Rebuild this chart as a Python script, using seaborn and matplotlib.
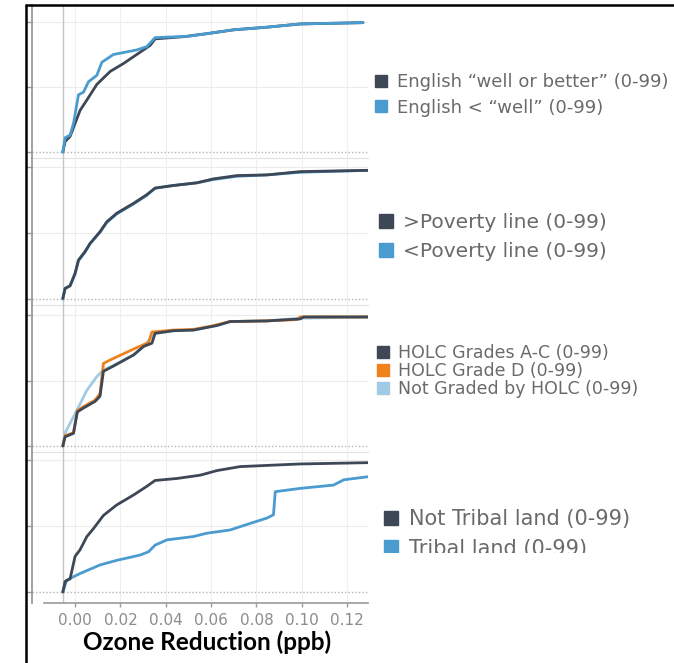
import matplotlib
matplotlib.use("Agg")
import matplotlib.pyplot as plt
from matplotlib.lines import Line2D
from matplotlib.patches import Rectangle
import pandas as pd
import seaborn as sns

# ---- data (cumulative share vs ozone reduction) ----
eng_well_x = [-0.0054, -0.0044, -0.0022, 0.0, 0.0022, 0.0052, 0.0096, 0.0155, 0.0213, 0.0272, 0.0331, 0.0353, 0.0478, 0.058, 0.07, 0.0846, 0.0993, 0.127]
eng_well_y = [0.0, 0.08, 0.12, 0.22, 0.32, 0.40, 0.52, 0.62, 0.68, 0.75, 0.82, 0.87, 0.887, 0.91, 0.94, 0.96, 0.985, 0.995]
eng_low_x = [-0.0054, -0.0044, -0.0022, -0.0007, 0.0015, 0.0037, 0.0059, 0.0096, 0.0118, 0.0169, 0.0272, 0.0316, 0.0353, 0.05, 0.058, 0.07, 0.0846, 0.0993, 0.127]
eng_low_y = [0.0, 0.11, 0.13, 0.22, 0.44, 0.46, 0.54, 0.59, 0.69, 0.75, 0.785, 0.81, 0.88, 0.89, 0.91, 0.94, 0.96, 0.985, 0.995]

pov_above_x = [-0.0054, -0.0044, -0.0022, 0.0, 0.0015, 0.0044, 0.0066, 0.011, 0.014, 0.0184, 0.0258, 0.0316, 0.0353, 0.0434, 0.0537, 0.061, 0.0714, 0.0846, 0.0993, 0.13]
pov_above_y = [0.005, 0.08, 0.10, 0.195, 0.295, 0.36, 0.42, 0.51, 0.585, 0.65, 0.725, 0.79, 0.84, 0.86, 0.88, 0.91, 0.935, 0.94, 0.965, 0.975]
pov_below_x = [-0.0054, -0.0044, -0.0022, 0.0, 0.0015, 0.0044, 0.0066, 0.011, 0.014, 0.0184, 0.0258, 0.0316, 0.0353, 0.0434, 0.0537, 0.061, 0.0714, 0.0846, 0.0993, 0.13]
pov_below_y = [0.0, 0.08, 0.10, 0.19, 0.29, 0.355, 0.42, 0.505, 0.58, 0.645, 0.72, 0.785, 0.84, 0.86, 0.88, 0.905, 0.93, 0.94, 0.96, 0.975]

holc_ac_x = [-0.0054, -0.0044, -0.0007, 0.001, 0.0037, 0.0088, 0.011, 0.0125, 0.0169, 0.0258, 0.0302, 0.0339, 0.0353, 0.0434, 0.0522, 0.0626, 0.0684, 0.0846, 0.0993, 0.1008, 0.13]
holc_ac_y = [0.0, 0.07, 0.097, 0.26, 0.29, 0.34, 0.38, 0.57, 0.61, 0.695, 0.76, 0.785, 0.86, 0.88, 0.885, 0.92, 0.95, 0.955, 0.97, 0.985, 0.985]
holc_d_x = [-0.0054, -0.0044, -0.0007, 0.001, 0.0037, 0.0088, 0.011, 0.0125, 0.0155, 0.0258, 0.0324, 0.0339, 0.0434, 0.0522, 0.06, 0.0684, 0.0846, 0.0978, 0.0993, 0.13]
holc_d_y = [0.0, 0.08, 0.10, 0.27, 0.30, 0.35, 0.40, 0.63, 0.657, 0.74, 0.79, 0.87, 0.885, 0.89, 0.915, 0.95, 0.955, 0.965, 0.985, 0.985]
holc_none_x = [-0.0054, -0.0044, 0.0007, 0.0052, 0.0096, 0.0125, 0.0169, 0.0258, 0.0302, 0.0353, 0.0434, 0.0522, 0.0626, 0.0684, 0.0846, 0.0993, 0.13]
holc_none_y = [0.0, 0.10, 0.27, 0.425, 0.53, 0.58, 0.615, 0.695, 0.76, 0.86, 0.88, 0.885, 0.92, 0.95, 0.955, 0.975, 0.985]

tribal_no_x = [-0.0054, -0.0044, -0.0022, 0.0, 0.0022, 0.0052, 0.0081, 0.0125, 0.0184, 0.0258, 0.0316, 0.0353, 0.0449, 0.0552, 0.0626, 0.0728, 0.0993, 0.13]
tribal_no_y = [0.0, 0.08, 0.10, 0.27, 0.32, 0.42, 0.48, 0.58, 0.66, 0.735, 0.80, 0.845, 0.86, 0.885, 0.92, 0.95, 0.97, 0.98]
tribal_yes_x = [-0.0054, -0.0037, 0.0022, 0.011, 0.0184, 0.0287, 0.0324, 0.0353, 0.0405, 0.0522, 0.058, 0.0684, 0.0728, 0.0846, 0.0875, 0.0883, 0.0993, 0.114, 0.1185, 0.13]
tribal_yes_y = [0.0, 0.09, 0.14, 0.205, 0.24, 0.28, 0.305, 0.355, 0.395, 0.42, 0.445, 0.47, 0.495, 0.56, 0.585, 0.76, 0.785, 0.81, 0.85, 0.875]

x_ticks = [0.00, 0.02, 0.04, 0.06, 0.08, 0.10, 0.12]
x_tick_labels = ["0.00", "0.02", "0.04", "0.06", "0.08", "0.10", "0.12"]

DARK = "#3e4756"
BLUE = "#4a9bd0"
ORANGE = "#f0821e"
LIGHT = "#9fcbe6"

panels = [
    dict(series=[("English \u201cwell or better\u201d (0-99)", eng_well_x, eng_well_y, DARK),
                 ("English < \u201cwell\u201d (0-99)", eng_low_x, eng_low_y, BLUE)],
         order=[0, 1], box=(32, 5, 368, 158), y0=152, scale=130,
         leg=(374, 95), fs=13, sp=0.4, ms=8.5),
    dict(series=[(">Poverty line (0-99)", pov_above_x, pov_above_y, DARK),
                 ("<Poverty line (0-99)", pov_below_x, pov_below_y, BLUE)],
         order=[1, 0], box=(32, 158, 368, 305), y0=299, scale=132,
         leg=(378, 237), fs=14.5, sp=0.48, ms=10.5),
    dict(series=[("HOLC Grades A-C (0-99)", holc_ac_x, holc_ac_y, DARK),
                 ("HOLC Grade D (0-99)", holc_d_x, holc_d_y, ORANGE),
                 ("Not Graded by HOLC (0-99)", holc_none_x, holc_none_y, LIGHT)],
         order=[2, 1, 0], box=(32, 305, 368, 452), y0=446, scale=131,
         leg=(376, 371), fs=12.5, sp=0.0, ms=9),
    dict(series=[("Not Tribal land (0-99)", tribal_no_x, tribal_no_y, DARK),
                 ("Tribal land (0-99)", tribal_yes_x, tribal_yes_y, BLUE)],
         order=[1, 0], box=(32, 452, 368, 603), y0=592, scale=132,
         leg=(383, 534), fs=15, sp=0.45, ms=9.5),
]

sns.set_theme(style="white")
plt.rcParams['font.family'] = ['DejaVu Sans']

W, H = 674, 663
fig = plt.figure(figsize=(W / 100, H / 100), dpi=100)

x_left, x_right = -0.019, 0.1292

for i, p in enumerate(panels):
    l, t, r, b = p["box"]
    ax = fig.add_axes([l / W, 1 - b / H, (r - l) / W, (b - t) / H])
    rows = []
    for k in p["order"]:
        name, xs, ys, _ = p["series"][k]
        for xv, yv in zip(xs, ys):
            rows.append((name, xv, yv))
    df = pd.DataFrame(rows, columns=["group", "x", "y"])
    pal = {s[0]: s[3] for s in p["series"]}
    hue_order = [p["series"][k][0] for k in p["order"]]

    # background guides
    for xt in x_ticks:
        ax.axvline(xt, color="#efefef", lw=0.8, zorder=0)
    ax.axhline(0.5, color="#ececec", lw=0.8, zorder=0)
    ax.axhline(1.0, color="#ececec", lw=0.8, zorder=0)
    ax.axhline(0.0, color="#b5b5b5", lw=1.0, ls=(0, (1, 1.5)), zorder=0)
    ax.axvline(-0.0054, color="#c4c4c4", lw=1.0, zorder=0)

    sns.lineplot(data=df, x="x", y="y", hue="group", hue_order=hue_order,
                 palette=pal, sort=False, estimator=None, legend=False,
                 linewidth=2.0, ax=ax)

    ax.set_xlim(x_left, x_right)
    ax.set_ylim((p["y0"] - b) / p["scale"], (p["y0"] - t) / p["scale"])
    ax.set_yticks([0, 0.5, 1.0])
    ax.set_yticklabels([])
    ax.set_xlabel("")
    ax.set_ylabel("")
    ax.tick_params(axis="y", length=4, width=1, color="#9a9a9a", left=True)
    for side in ["top", "right"]:
        ax.spines[side].set_visible(False)
    ax.spines["left"].set_color("#9a9a9a")
    ax.spines["left"].set_linewidth(1.3)
    if i < 3:
        ax.spines["bottom"].set_color("#e2e2e2")
        ax.spines["bottom"].set_linewidth(0.8)
        ax.set_xticks([])
    else:
        ax.spines["bottom"].set_color("#9a9a9a")
        ax.spines["bottom"].set_linewidth(1.2)
        ax.spines["bottom"].set_bounds(-0.0135, x_right)
        ax.set_xticks(x_ticks)
        ax.set_xticklabels(x_tick_labels, fontsize=11, color="#8c8c8c")
        ax.tick_params(axis="x", length=3, width=1, color="#9a9a9a",
                       bottom=True, pad=4)
    ax.patch.set_alpha(0)

    handles = [Line2D([], [], ls="", marker="s", markersize=p["ms"],
                      color=s[3]) for s in p["series"]]
    labels = [s[0] for s in p["series"]]
    fig.legend(handles, labels, loc="center left",
               bbox_to_anchor=(p["leg"][0] / W, 1 - p["leg"][1] / H),
               frameon=False, fontsize=p["fs"], labelcolor="#6a6a6a",
               handlelength=0.8, handletextpad=0.45, borderpad=0,
               borderaxespad=0, labelspacing=p["sp"])

# the last legend row is cut off in the original
fig.add_artist(Rectangle((370 / W, 1 - 600 / H), (W - 370) / W, 47 / H,
                         transform=fig.transFigure, facecolor="white",
                         edgecolor="none", zorder=20))

fig.text(207 / W, 1 - 642 / H, "Ozone Reduction (ppb)", ha="center",
         va="center", fontsize=17.5, fontweight="bold", color="black",
         family=["Lato", "DejaVu Sans"])

# outer frame
fig.add_artist(Line2D([26 / W, 1.0], [1 - 5 / H, 1 - 5 / H], color="black", lw=1.8))
fig.add_artist(Line2D([26 / W, 26 / W], [1 - 5 / H, 0.0], color="black", lw=1.8))

fig.savefig("out.png", dpi=100)
